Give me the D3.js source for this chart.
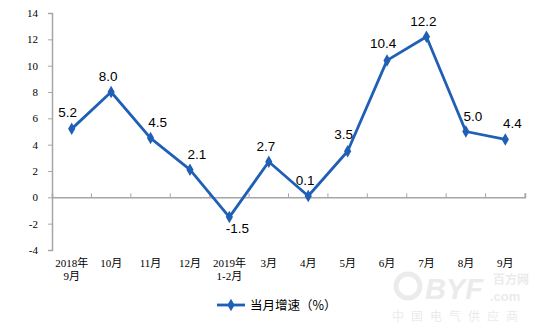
<!DOCTYPE html>
<html>
<head>
<meta charset="utf-8">
<script src="https://cdn.jsdelivr.net/npm/d3@7"></script>
<style>
	body {margin:0; background:#fff}
	svg {display:block}
</style>
</head>
<body>
<svg id="chart" width="551" height="330"></svg>
<script>
/*** Data ***/
var months = ["2018年\n9月", "10月", "11月", "12月", "2019年\n1-2月", "3月", "4月", "5月", "6月", "7月", "8月", "9月"]
var growth = [5.2, 8.0, 4.5, 2.1, -1.5, 2.7, 0.1, 3.5, 10.4, 12.2, 5.0, 4.4]
var yTicks = [-4, -2, 0, 2, 4, 6, 8, 10, 12, 14]
var seriesName = "当月增速（%）"
// where each value label sits relative to its point
var labelPos = ["al", "a", "ar", "ar", "b", "a", "a", "al", "al", "a", "ar", "ar"]

/*** Draw ***/
var svg = d3.select("#chart")
var blue = "#1f5fb5"
var grey = "#a6a6a6"
var serif = "'Liberation Serif', 'Times New Roman', 'Noto Sans CJK SC', serif"
var sans = "'Liberation Sans', Arial, sans-serif"
var hy = (s) => s.replace("\u2212", "-")

var x = d3.scaleBand().domain(months).range([52, 525])
var y = d3.scaleLinear().domain([-4, 14]).range([250, 13])

// y axis
var ya = svg.append("g")
	.attr("transform", "translate(52,0)")
	.call(d3.axisLeft(y).tickValues(yTicks).tickSize(4).tickPadding(10).tickFormat((d) => hy(d3.format("d")(d))))
ya.select(".domain").attr("stroke", grey).attr("stroke-width", 1.5)
ya.selectAll(".tick line").attr("stroke", grey)
ya.selectAll("text").attr("font-family", serif).attr("font-size", 11).attr("fill", "#000")

// zero line with upward ticks
var xa = svg.append("g")
	.attr("transform", "translate(0," + y(0) + ")")
	.call(d3.axisTop(x).tickSize(4).tickSizeOuter(4).tickFormat(""))
xa.select(".domain").attr("stroke", grey).attr("stroke-width", 1.5)
xa.selectAll(".tick line").attr("stroke", grey).attr("transform", "translate(" + (x.bandwidth() / 2) + ",0)")

// category labels
var cl = svg.append("g")
	.selectAll("text")
	.data(months)
	.enter()
	.append("text")
	.attr("x", (d) => x(d) + x.bandwidth() / 2)
	.attr("y", 267)
	.attr("text-anchor", "middle")
	.attr("font-family", serif)
	.attr("font-size", 11)
	.attr("fill", "#000")
cl.selectAll("tspan")
	.data((d) => d.split("\n"))
	.enter()
	.append("tspan")
	.attr("x", function() {return this.parentNode.getAttribute("x")})
	.attr("dy", (d, i) => i ? 13 : 0)
	.text((d) => d)

// line
var cx = (d, i) => x(months[i]) + x.bandwidth() / 2
svg.append("path")
	.datum(growth)
	.attr("fill", "none")
	.attr("stroke", blue)
	.attr("stroke-width", 2.8)
	.attr("stroke-linejoin", "round")
	.attr("d", d3.line().x(cx).y((d) => y(d)))

var diamond = d3.symbol().type(d3.symbolDiamond).size(45)
svg.append("g")
	.selectAll("path")
	.data(growth)
	.enter()
	.append("path")
	.attr("d", diamond)
	.attr("fill", blue)
	.attr("transform", (d, i) => "translate(" + cx(d, i) + "," + y(d) + ")")

// value labels
var off = {a: [-3, -11], al: [-4, -12], ar: [7, -11], b: [8, 16]}
svg.append("g")
	.selectAll("text")
	.data(growth)
	.enter()
	.append("text")
	.attr("x", (d, i) => cx(d, i) + off[labelPos[i]][0])
	.attr("y", (d, i) => y(d) + off[labelPos[i]][1])
	.attr("text-anchor", "middle")
	.attr("font-family", sans)
	.attr("font-size", 13.5)
	.attr("fill", "#000")
	.text((d) => hy(d3.format(".1f")(d)))

// legend
var lg = svg.append("g").attr("transform", "translate(217,305)")
lg.append("line").attr("x1", 0).attr("x2", 28).attr("stroke", blue).attr("stroke-width", 2.8)
lg.append("path").attr("d", diamond).attr("fill", blue).attr("transform", "translate(14,0)")
lg.append("text")
	.attr("x", 33)
	.attr("y", 4.5)
	.attr("font-family", "'Noto Sans CJK SC', sans-serif")
	.attr("font-size", 12.5)
	.attr("fill", "#000")
	.text(seriesName)

// watermark
var wm = svg.append("g").attr("fill", "#ebebeb")
wm.append("circle").attr("cx", 408).attr("cy", 286).attr("r", 12).attr("fill", "none").attr("stroke", "#ebebeb").attr("stroke-width", 5)
wm.append("text").attr("x", 425).attr("y", 299).attr("font-family", sans).attr("font-weight", "bold").attr("font-style", "italic").attr("font-size", 29).text("BYF")
wm.append("text").attr("x", 493).attr("y", 284).attr("font-family", "'Noto Sans CJK SC'").attr("font-weight", "bold").attr("font-size", 12).text("百方网")
wm.append("text").attr("x", 490).attr("y", 301).attr("font-family", sans).attr("font-weight", "bold").attr("font-size", 13).text(".com")
wm.append("text").attr("x", 392).attr("y", 321).attr("font-family", "'Noto Sans CJK SC'").attr("font-size", 12).attr("letter-spacing", 7).text("中国电气供应商")
</script>
</body>
</html>
